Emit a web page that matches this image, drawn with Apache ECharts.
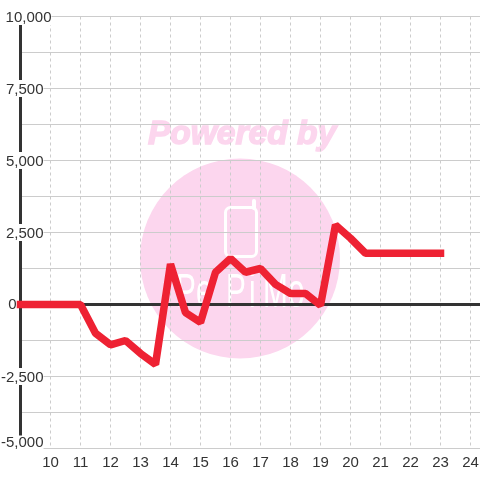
<!DOCTYPE html>
<html><head><meta charset="utf-8">
<style>html,body{margin:0;padding:0;background:#fff}#c{width:480px;height:480px}</style>
<script src="https://cdn.jsdelivr.net/npm/echarts@6/dist/echarts.min.js"></script></head>
<body><div id="c"></div>
<script>
const hours = [9,11,11.5,12,12.5,13,13.5,14,14.5,15,15.5,16,16.5,17,17.5,18,18.5,19,19.5,20,20.5,21,21.5,22,22.5,23];
const values = [0,0,-1000,-1400,-1250,-1700,-2080,1400,-280,-620,1120,1600,1120,1250,700,380,380,-30,2760,2300,1780,1780,1780,1780,1780,1780];
const axisEnds = [9,24.333];
const pink = '#fcd6ee';
const fontFamily = '"Liberation Sans", Arial, sans-serif';
const chart = echarts.init(document.getElementById('c'), null, {renderer:'canvas'});
const logoLetters = [['P',176],['e',196],['P',226],['i',249],['M',263],['o',288]];
chart.setOption({
  animation:false,
  backgroundColor:'#fff',
  grid:{left:20.5,right:-0.5,top:16.5,bottom:31.5,outerBoundsMode:'none'},
  graphic:[
    {type:'circle',z:-10,silent:true,shape:{cx:240,cy:258.5,r:100},style:{fill:pink}},
    {type:'text',z:-10,silent:true,x:148,y:118,style:{text:'Powered by',fill:pink,stroke:pink,lineWidth:1.5,font:'italic bold 33.5px "Liberation Sans"'}},
    {type:'rect',z:-9,silent:true,shape:{x:225.5,y:207.5,width:31,height:49,r:5},style:{fill:'none',stroke:'#fff',lineWidth:3}},
    {type:'line',z:-9,silent:true,shape:{x1:254,y1:201,x2:254,y2:208},style:{stroke:'#fff',lineWidth:4,lineCap:'round'}}
  ].concat(logoLetters.map(([ch,x])=>({type:'text',z:-9,silent:true,x,y:270,scaleX:0.62,style:{text:ch,fill:'#fff',font:'48px "Liberation Sans"'}}))),
  xAxis:{type:'value',min:9,max:24.333,interval:1,
     axisLine:{show:false,onZero:false},axisTick:{show:false},
     axisLabel:{color:'#333',fontFamily,fontSize:15,margin:6.5,showMinLabel:false,showMaxLabel:false,hideOverlap:false,
       formatter:v=>(v>=10&&v<=24&&Number.isInteger(v))?String(v):''},
     splitLine:{show:true,lineStyle:{color:'#ccc',type:[3,3],width:1}}},
  yAxis:{type:'value',min:-5000,max:10000,interval:1250,position:'left',
    axisLine:{show:true,onZero:false,lineStyle:{color:'#333',width:3}},
    axisTick:{show:false},
    axisLabel:{margin:-31,align:'right',color:'#333',fontFamily,fontSize:15,
      formatter:v=>{
        if(v%2500!==0) return '';
        const t=v.toLocaleString('en-US');
        if(v===0) return '{z|'+t+'}{g|}';
        if(v===10000) return '{n|'+t+'}';
        if(v===-5000) return '{b|'+t+'}{s|}';
        return '{n|'+t+'}{s|}';
      },
      rich:{
        n:{backgroundColor:'#fff',fontFamily,fontSize:15,color:'#333',padding:[2,0,0,0]},
        b:{backgroundColor:'#fff',fontFamily,fontSize:15,color:'#333',padding:[0,0,11,0]},
        z:{fontFamily,fontSize:15,color:'#333',padding:[1,0,0,0]},
        s:{width:8},
        g:{width:35}
      }},
    splitLine:{show:true,lineStyle:{color:'#ccc',width:1}}},
  series:[
   {type:'line',name:'zero',data:axisEnds.map(h=>[h,0]),symbol:'none',z:3,lineStyle:{color:'#333',width:3}},
   {type:'line',data:hours.map((h,i)=>[h,values[i]]),symbol:'none',z:5,
    lineStyle:{color:'#ee2233',width:7.5,join:'bevel',cap:'square'}}]
});
</script></body></html>
